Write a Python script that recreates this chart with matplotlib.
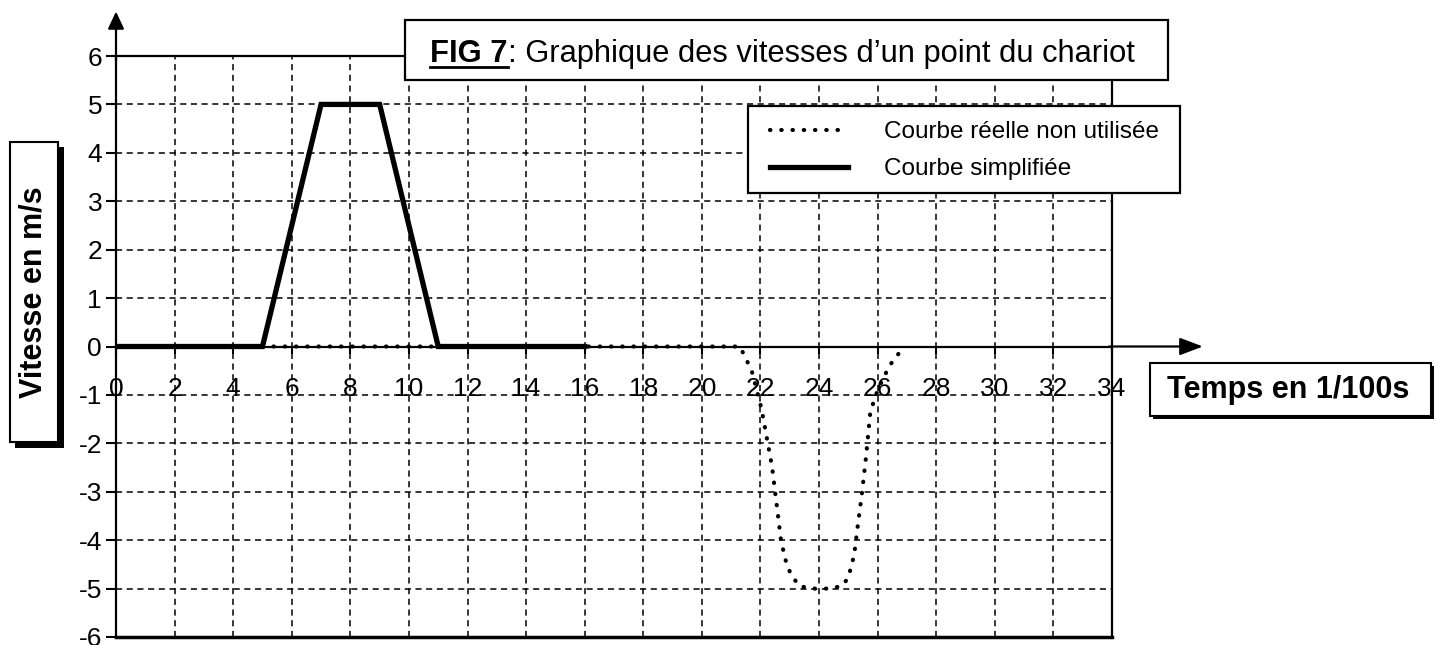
import matplotlib
matplotlib.use('Agg')
import matplotlib.pyplot as plt
from matplotlib.patches import Rectangle
from matplotlib.lines import Line2D

plt.rcParams['font.family'] = ['Liberation Sans', 'DejaVu Sans']
plt.rcParams['axes.unicode_minus'] = False

# courbe simplifiee (trapeze)
simple_t = [0, 5, 7, 9, 11, 16]
simple_v = [0, 0, 5, 5, 0, 0]

# courbe reelle non utilisee
real_t = [0, 16, 21.3, 21.7, 22.0, 22.1, 22.25, 22.4, 22.5, 22.6, 22.7, 22.85, 23.0,
          23.3, 23.7, 24.0, 24.4, 24.8, 25.0, 25.2, 25.3, 25.45, 25.6, 25.75, 26.0,
          26.4, 26.9]
real_v = [0, 0, 0, -0.5, -1.2, -1.5, -2.0, -2.5, -3.0, -3.5, -4.0, -4.4, -4.65,
          -4.94, -5, -5, -5, -4.94, -4.77, -4.3, -3.8, -3.1, -2.3, -1.35, -0.9,
          -0.4, 0]

x_ticks = list(range(0, 35, 2))
y_ticks = list(range(-6, 7))

W, H = 1438, 645
fig = plt.figure(figsize=(W / 100, H / 100), dpi=100)


def fbox(x0, y0, x1, y1):
    # pixel box (origin top-left) -> figure fraction rect
    return (x0 / W, 1 - y1 / H), (x1 - x0) / W, (y1 - y0) / H


ax = fig.add_axes([116 / W, 8 / H, 996 / W, 581 / H])
ax.set_xlim(0, 34)
ax.set_ylim(-6, 6)
ax.set_xticks(x_ticks)
ax.set_yticks(y_ticks)
ax.grid(True, color='k', lw=1.1, ls=(0, (4, 3)))
ax.set_axisbelow(True)

for s in ax.spines.values():
    s.set_linewidth(1.6)
ax.spines['bottom'].set_position(('data', 0))
ax.axhline(-6, color='k', lw=2.5, clip_on=False)

ax.tick_params(axis='x', direction='out', length=5, width=1.5, pad=17, labelsize=19)
ax.tick_params(axis='y', direction='out', length=7, width=1.5, pad=3, labelsize=19)

real_line, = ax.plot(real_t, real_v, color='k', lw=3, ls=(0, (0.1, 2.6)),
                     dash_capstyle='round', label='Courbe réelle non utilisée')
simple_line, = ax.plot(simple_t, simple_v, color='k', lw=3.8,
                       solid_joinstyle='miter', label='Courbe simplifiée')

# fleches des axes
ax.annotate('', xy=(0, 6.92), xytext=(0, 5.9), annotation_clip=False,
            arrowprops=dict(arrowstyle='-|>,head_length=0.75,head_width=0.35',
                            color='k', lw=1.6, shrinkA=0, shrinkB=0, mutation_scale=14))
ax.annotate('', xy=(37.1, 0), xytext=(33.9, 0), annotation_clip=False,
            arrowprops=dict(arrowstyle='-|>,head_length=1.0,head_width=0.38',
                            color='k', lw=1.6, shrinkA=0, shrinkB=0, mutation_scale=14))

# titre
xy, w, h = fbox(405, 20, 1168, 80)
fig.add_artist(Rectangle(xy, w, h, transform=fig.transFigure, facecolor='white',
                         edgecolor='k', lw=1.6, zorder=3))
t1 = fig.text(430 / W, 1 - 62 / H, 'FIG 7', fontsize=22.2, fontweight='bold',
              ha='left', va='baseline', zorder=4)
renderer = fig.canvas.get_renderer()
bb = t1.get_window_extent(renderer)
x_end = bb.x1 / W
fig.add_artist(Line2D([430 / W, x_end], [1 - 67 / H, 1 - 67 / H], color='k', lw=2,
                      transform=fig.transFigure, zorder=4))
fig.text(x_end, 1 - 62 / H, ': Graphique des vitesses d’un point du chariot',
         fontsize=22.2, ha='left', va='baseline', zorder=4)

# label axe y avec ombre
xy, w, h = fbox(15, 147, 64, 448)
fig.add_artist(Rectangle(xy, w, h, transform=fig.transFigure, facecolor='k', zorder=3))
xy, w, h = fbox(10, 142, 58, 442)
fig.add_artist(Rectangle(xy, w, h, transform=fig.transFigure, facecolor='white',
                         edgecolor='k', lw=1.5, zorder=3))
fig.text(34 / W, 1 - 292 / H, 'Vitesse en m/s', rotation=90, fontsize=22,
         fontweight='bold', ha='center', va='center', zorder=4)

# label axe x avec ombre
xy, w, h = fbox(1153, 366, 1434, 419)
fig.add_artist(Rectangle(xy, w, h, transform=fig.transFigure, facecolor='k', zorder=3))
xy, w, h = fbox(1150, 363, 1431, 416)
fig.add_artist(Rectangle(xy, w, h, transform=fig.transFigure, facecolor='white',
                         edgecolor='k', lw=1.5, zorder=3))
fig.text(1288 / W, 1 - 390 / H, 'Temps en 1/100s', fontsize=22,
         fontweight='bold', ha='center', va='center', zorder=4)

# legende : cadre dessine a part, contenu sans cadre
xy, w, h = fbox(748, 106, 1180, 193)
fig.add_artist(Rectangle(xy, w, h, transform=fig.transFigure, facecolor='white',
                         edgecolor='k', lw=1.6, zorder=4))
leg = fig.legend(handles=[real_line, simple_line], loc='upper left',
                 bbox_to_anchor=(770 / W, 1 - 121 / H), bbox_transform=fig.transFigure,
                 fontsize=17.5, frameon=False, handlelength=3.2, handletextpad=1.5,
                 borderpad=0, labelspacing=0.62, borderaxespad=0)
leg.set_zorder(5)

fig.savefig('out.png', dpi=100)
